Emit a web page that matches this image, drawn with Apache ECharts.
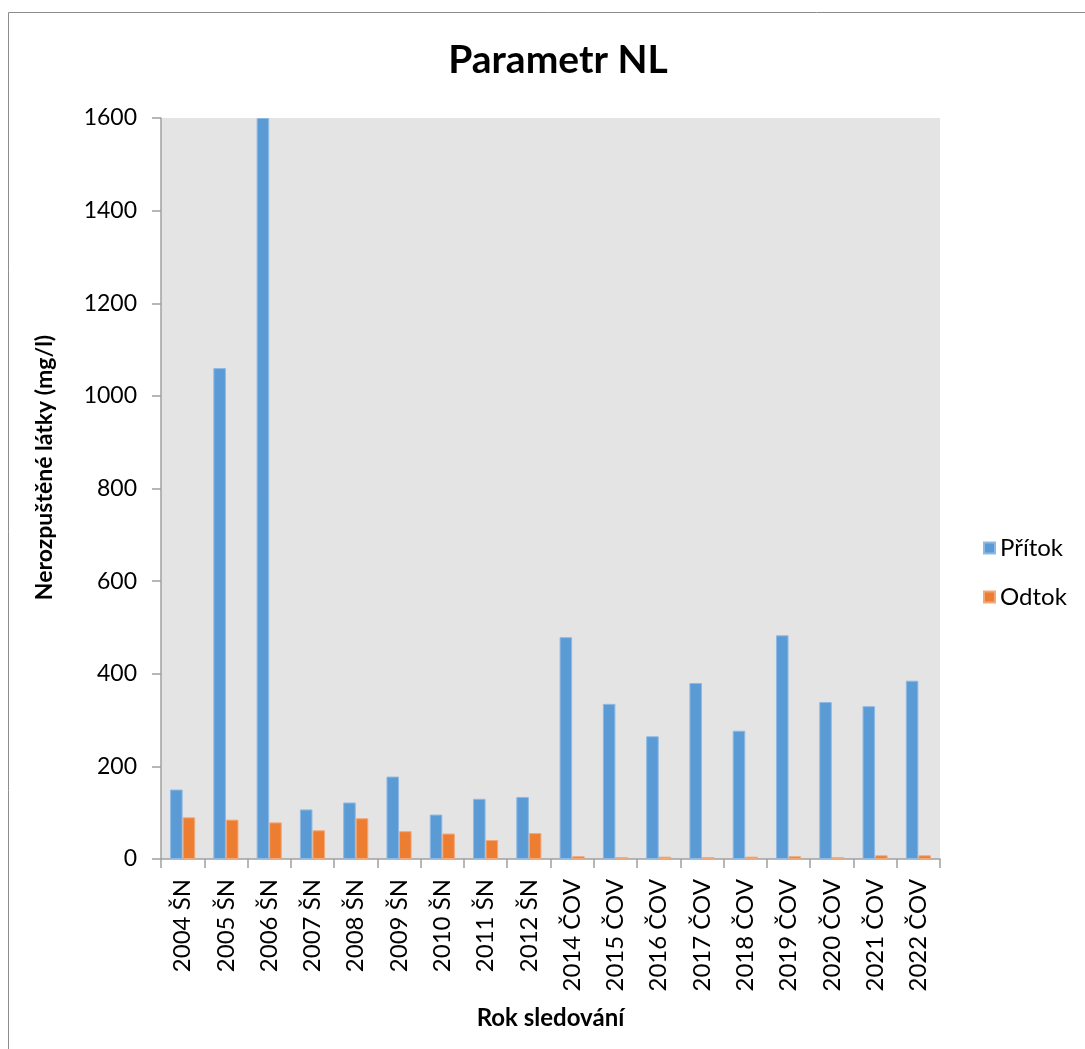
<!DOCTYPE html>
<html>
<head>
<meta charset="utf-8">
<script src="https://cdn.jsdelivr.net/npm/echarts@6/dist/echarts.min.js"></script>
<style>
html,body{margin:0;padding:0;background:#fff;}
#chart{width:1085px;height:1049px;}
</style>
</head>
<body>
<div id="chart"></div>
<script>
const categories = ['2004 ŠN','2005 ŠN','2006 ŠN','2007 ŠN','2008 ŠN','2009 ŠN','2010 ŠN','2011 ŠN','2012 ŠN','2014 ČOV','2015 ČOV','2016 ČOV','2017 ČOV','2018 ČOV','2019 ČOV','2020 ČOV','2021 ČOV','2022 ČOV'];
const pritok = [150, 1060, 1600, 107, 122, 178, 96, 130, 134, 479, 335, 265, 380, 277, 483, 339, 330, 385];
const odtok = [90, 85, 79, 62, 88, 60, 55, 41, 56, 6, 4, 5, 4, 5, 6, 4, 8, 8];
const yTicks = [0, 200, 400, 600, 800, 1000, 1200, 1400, 1600];

const FONT = 'Lato';
const chart = echarts.init(document.getElementById('chart'));
chart.setOption({
  animation: false,
  textStyle: { fontFamily: FONT, color: '#000' },
  graphic: [{
    type: 'rect',
    shape: { x: 8.5, y: 12.5, width: 1200, height: 1200 },
    style: { fill: 'none', stroke: '#8c8c8c', lineWidth: 1 },
    silent: true
  }],
  title: {
    text: 'Parametr NL',
    left: 553,
    textAlign: 'center',
    top: 36,
    textStyle: { fontFamily: FONT, fontWeight: 'bold', fontSize: 39, color: '#000' }
  },
  legend: {
    orient: 'vertical',
    left: 978,
    top: 531,
    itemWidth: 11,
    itemHeight: 11,
    itemGap: 25,
    icon: 'rect',
    textStyle: { fontFamily: FONT, fontSize: 24, color: '#000', padding: [0, 0, 0, 0] },
    data: ['Přítok', 'Odtok']
  },
  grid: {
    left: 161, right: 145, top: 118, bottom: 190,
    containLabel: false,
    outerBoundsMode: 'none',
    show: true, backgroundColor: '#e4e4e4', borderWidth: 0
  },
  xAxis: {
    type: 'category',
    data: categories,
    name: 'Rok sledování',
    nameLocation: 'middle',
    nameGap: 147,
    nameTextStyle: { fontFamily: FONT, fontWeight: 'bold', fontSize: 24, color: '#000' },
    axisLine: { lineStyle: { color: '#a0a0a0', width: 1.5 } },
    axisTick: { show: true, length: 9, alignWithLabel: false, lineStyle: { color: '#a0a0a0', width: 1.5 } },
    axisLabel: { rotate: 90, fontSize: 24, color: '#000', margin: 20, interval: 0 }
  },
  yAxis: {
    type: 'value',
    min: 0, max: 1600, interval: 200,
    name: 'Nerozpuštěné látky (mg/l)',
    nameLocation: 'middle',
    nameGap: 105,
    nameRotate: 90,
    nameTextStyle: { fontFamily: FONT, fontWeight: 'bold', fontSize: 23, color: '#000', padding: [0, 0, 0, 42] },
    axisLine: { show: true, lineStyle: { color: '#a0a0a0', width: 1.5 } },
    axisTick: { show: true, length: 9, lineStyle: { color: '#a0a0a0', width: 1.5 } },
    splitLine: { show: false },
    axisLabel: { fontSize: 23, color: '#000', margin: 24,
      customValues: yTicks, formatter: function (v) { return String(v); } }
  },
  series: [
    { name: 'Přítok', type: 'bar', data: pritok, barGap: '0%', barCategoryGap: '42%', clip: true,
      itemStyle: { color: '#5b9bd5', borderColor: '#8fb9e3', borderWidth: 1 } },
    { name: 'Odtok', type: 'bar', data: odtok, barGap: '0%', barCategoryGap: '42%', clip: true,
      itemStyle: { color: '#ed7d31', borderColor: '#f3a878', borderWidth: 1 } }
  ]
});
</script>
</body>
</html>
